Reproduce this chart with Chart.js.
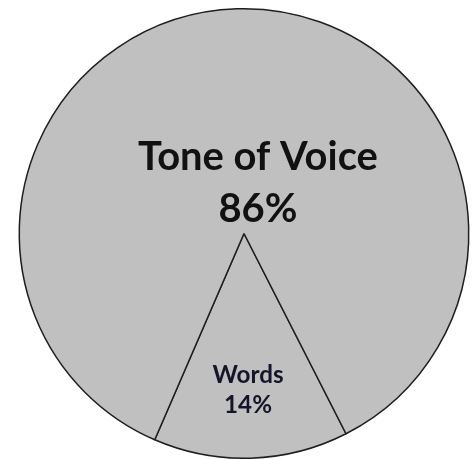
<!DOCTYPE html>
<html>
<head>
<meta charset="utf-8">
<script src="https://cdn.jsdelivr.net/npm/chart.js@4/dist/chart.umd.min.js"></script>
<style>
  html, body { margin: 0; padding: 0; background: #ffffff; }
  #wrap { width: 474px; height: 459px; position: relative; }
</style>
</head>
<body>
<div id="wrap"><canvas id="c"></canvas></div>
<script>
// Data
const categories = ["Words", "Tone of Voice"];
const values = [14, 86];
const valueLabels = ["14%", "86%"];

// Label placement / styling (relative to pie centre, in units of radius)
const labelStyle = [
  { dx: 0.018, dy1: 0.665, dy2: 0.799, width: 71, color: "#15152a" },
  { dx: 0.062, dy1: -0.283, dy2: -0.051, width: 240, color: "#111111" }
];

const sliceLabels = {
  id: "sliceLabels",
  afterDatasetsDraw(chart) {
    const ctx = chart.ctx;
    const meta = chart.getDatasetMeta(0);
    meta.data.forEach((arc, i) => {
      const st = labelStyle[i];
      const r = arc.outerRadius;
      const cx = arc.x + st.dx * r;
      ctx.save();
      ctx.font = "bold 100px Lato";
      const w100 = ctx.measureText(categories[i]).width;
      const size = 100 * st.width / w100;
      ctx.font = "bold " + size.toFixed(2) + "px Lato";
      ctx.fillStyle = st.color;
      ctx.textAlign = "center";
      ctx.textBaseline = "alphabetic";
      ctx.fillText(categories[i], cx, arc.y + st.dy1 * r);
      ctx.fillText(valueLabels[i], cx, arc.y + st.dy2 * r);
      ctx.restore();
    });
  }
};

new Chart(document.getElementById("c"), {
  type: "pie",
  data: {
    labels: categories,
    datasets: [{
      data: values,
      backgroundColor: "#c0c0c0",
      borderColor: "#1e1e1e",
      borderWidth: 1.5
    }]
  },
  options: {
    responsive: true,
    maintainAspectRatio: false,
    animation: false,
    rotation: 153,
    layout: { padding: { left: 18, right: 4, top: 8, bottom: 0 } },
    plugins: {
      legend: { display: false },
      tooltip: { enabled: false }
    }
  },
  plugins: [sliceLabels]
});
</script>
</body>
</html>
